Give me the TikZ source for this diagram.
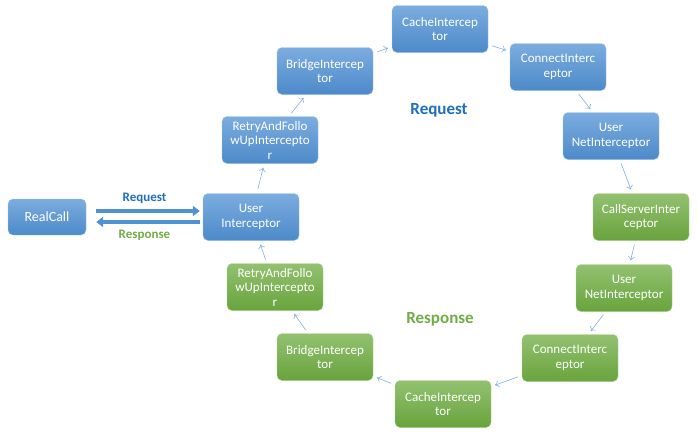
\documentclass[tikz,border=0pt]{standalone}
\usepackage{fontspec}
\setmainfont{Carlito}
\usetikzlibrary{arrows.meta}
\definecolor{reqblue}{RGB}{31,110,190}
\definecolor{resgreen}{RGB}{112,173,71}
\definecolor{linkblue}{RGB}{130,175,225}
\definecolor{boxblue}{RGB}{80,145,212}
\definecolor{boxgreen}{RGB}{110,172,64}
\begin{document}
\begin{tikzpicture}
[x=1pt, y=-1pt, font=\fontsize{13}{14.5}\selectfont]
\tikzstyle{stage}=[rounded corners=5pt, minimum width=96pt, minimum height=47pt, inner sep=1pt, align=center, text=white]
\tikzstyle{req}=[stage, draw=boxblue!55!white, top color=boxblue!75!white, bottom color=boxblue!95!black]
\tikzstyle{res}=[stage, draw=boxgreen!55!white, top color=boxgreen!75!white, bottom color=boxgreen!95!black]
\tikzstyle{link}=[draw=linkblue, line width=0.6pt, -{To[length=4pt,width=7pt]}, shorten <=4pt, shorten >=4pt]
\tikzstyle{block}=[draw=boxblue, line width=4.5pt, -{Triangle[length=7pt,width=10pt]}]
\useasboundingbox (0,0) rectangle (698,434);

% request side
\node[req, minimum width=78pt, minimum height=36pt, font=\fontsize{14}{16}\selectfont] (RC) at (47,217) {RealCall};
\node[req] (UI)  at (251,217) {User\\Interceptor};
\node[req] (RF)  at (270,140) {RetryAndFollo\\wUpIntercepto\\r};
\node[req] (BI)  at (325,71)  {BridgeIntercep\\tor};
\node[req] (CI)  at (440,29)  {CacheIntercep\\tor};
\node[req] (CO)  at (558,67)  {ConnectInterc\\eptor};
\node[req] (UN)  at (611,136) {User\\NetInterceptor};
% response side
\node[res] (CS)  at (641,217) {CallServerInter\\ceptor};
\node[res] (UN2) at (624,288) {User\\NetInterceptor};
\node[res] (CO2) at (570,358) {ConnectInterc\\eptor};
\node[res] (CI2) at (443,404) {CacheIntercep\\tor};
\node[res] (BI2) at (325,357) {BridgeIntercep\\tor};
\node[res] (RF2) at (275,287) {RetryAndFollo\\wUpIntercepto\\r};

\node[text=reqblue, font=\fontsize{17}{19}\selectfont\bfseries] (reqlabel) at (439,110) {Request};
\node[text=resgreen, font=\fontsize{17}{19}\selectfont\bfseries] (reslabel) at (440,319) {Response};

% call arrows
\draw[block, shorten <=10pt, shorten >=3pt] ([yshift=6pt]RC.east) -- ([yshift=6pt]UI.west)
  node[midway, above=2pt, text=reqblue, font=\fontsize{13}{15}\selectfont\bfseries] {Request};
\draw[block, shorten <=3pt, shorten >=10pt] ([yshift=-5pt]UI.west) -- ([yshift=-5pt]RC.east)
  node[midway, below=2pt, text=resgreen, font=\fontsize{13}{15}\selectfont\bfseries] {Response};

\draw[link] (UI)--(RF);
\draw[link] (RF)--(BI);
\draw[link] (BI)--(CI);
\draw[link] (CI)--(CO);
\draw[link] (CO)--(UN);
\draw[link] (UN)--(CS);
\draw[link] (CS)--(UN2);
\draw[link] (UN2)--(CO2);
\draw[link] (CO2)--(CI2);
\draw[link] (CI2)--(BI2);
\draw[link] (BI2)--(RF2);
\draw[link] (RF2)--(UI);
\end{tikzpicture}
\end{document}
